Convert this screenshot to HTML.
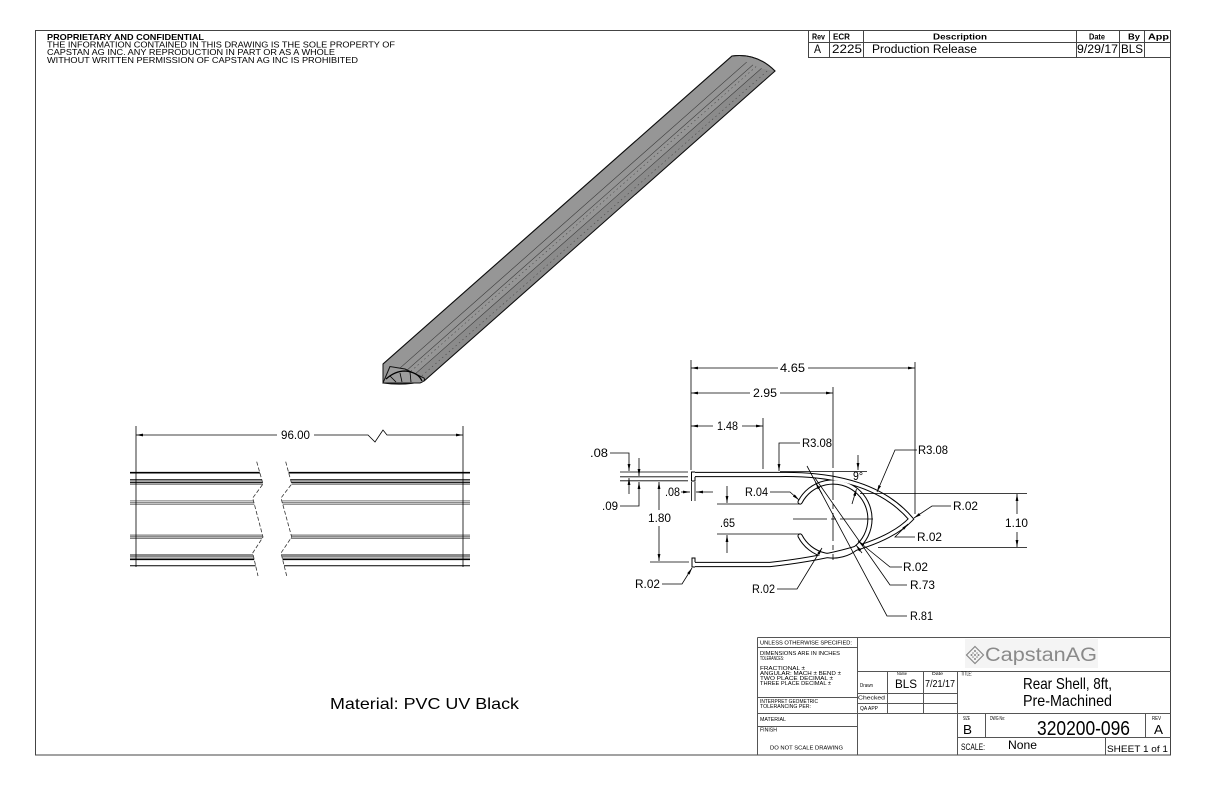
<!DOCTYPE html>
<html><head><meta charset="utf-8"><style>
html,body{margin:0;padding:0;background:#fff;}
svg{display:block;}
text{font-family:"Liberation Sans",Arial,sans-serif;fill:#000;}
</style></head><body>
<svg width="1224" height="792" viewBox="0 0 1224 792" xmlns="http://www.w3.org/2000/svg">
<defs>
<marker id="ar" viewBox="0 0 10 4" refX="10" refY="2" markerWidth="7" markerHeight="2.8" markerUnits="userSpaceOnUse" orient="auto-start-reverse"><path d="M0,0L10,2L0,4z" fill="#000"/></marker>
<clipPath id="cl"><polygon points="130,455 256.7,461.7 263,484 252.7,498 263,537 252.7,553 258,576 130,576"/></clipPath>
<clipPath id="cr"><polygon points="285.7,461.7 291.7,484 281,498 291.7,537 281,553 286.7,576 470,576 470,455"/></clipPath>
<g id="bars">
<line x1="130" y1="472.7" x2="470" y2="472.7" stroke="#000" stroke-width="1.6"/>
<line x1="130" y1="479.7" x2="470" y2="479.7" stroke="#000" stroke-width="1"/>
<line x1="130" y1="481.2" x2="470" y2="481.2" stroke="#888" stroke-width="1.2"/>
<line x1="130" y1="482.6" x2="470" y2="482.6" stroke="#000" stroke-width="1"/>
<line x1="130" y1="484.1" x2="470" y2="484.1" stroke="#222" stroke-width="0.8"/>
<line x1="130" y1="500.8" x2="470" y2="500.8" stroke="#555" stroke-width="0.7"/>
<line x1="130" y1="502.6" x2="470" y2="502.6" stroke="#8a8a8a" stroke-width="1.8"/>
<line x1="130" y1="504.3" x2="470" y2="504.3" stroke="#555" stroke-width="0.7"/>
<line x1="130" y1="535" x2="470" y2="535" stroke="#555" stroke-width="0.7"/>
<line x1="130" y1="536.7" x2="470" y2="536.7" stroke="#8a8a8a" stroke-width="1.8"/>
<line x1="130" y1="538.4" x2="470" y2="538.4" stroke="#555" stroke-width="0.7"/>
<rect x="130" y="554" width="340" height="3.6" fill="#8a8a8a"/>
<line x1="130" y1="559.3" x2="470" y2="559.3" stroke="#000" stroke-width="1.6"/>
<line x1="130" y1="565.8" x2="470" y2="565.8" stroke="#000" stroke-width="1"/>
</g>
</defs>

<!-- frame -->
<rect x="35.5" y="30.5" width="1135" height="724.5" fill="none" stroke="#444" stroke-width="1"/>

<!-- header -->
<text x="47" y="40" font-size="8.5" font-weight="bold" textLength="157" lengthAdjust="spacingAndGlyphs">PROPRIETARY AND CONFIDENTIAL</text>
<text x="47" y="47.6" font-size="8.5" textLength="348" lengthAdjust="spacingAndGlyphs">THE INFORMATION CONTAINED IN THIS DRAWING IS THE SOLE PROPERTY OF</text>
<text x="47" y="55.2" font-size="8.5" textLength="288" lengthAdjust="spacingAndGlyphs">CAPSTAN AG INC. ANY REPRODUCTION IN PART OR AS A WHOLE</text>
<text x="47" y="62.8" font-size="8.5" textLength="311" lengthAdjust="spacingAndGlyphs">WITHOUT WRITTEN PERMISSION OF CAPSTAN AG INC IS PROHIBITED</text>

<!-- rev table -->
<g stroke="#444" stroke-width="1" fill="none">
<rect x="808.5" y="30.5" width="362" height="27"/>
<path d="M808.5,42.5H1170.5M829.5,30.5V57.5M863.5,30.5V57.5M1076.5,30.5V57.5M1119.5,30.5V57.5M1144.5,30.5V57.5"/>
</g>
<g font-size="8.5" font-weight="bold">
<text x="812" y="39.5" textLength="13" lengthAdjust="spacingAndGlyphs">Rev</text>
<text x="833" y="39.5" textLength="17" lengthAdjust="spacingAndGlyphs">ECR</text>
<text x="933" y="39.5" textLength="54" lengthAdjust="spacingAndGlyphs">Description</text>
<text x="1089" y="39.5" textLength="16" lengthAdjust="spacingAndGlyphs">Date</text>
<text x="1128" y="39.5" textLength="12" lengthAdjust="spacingAndGlyphs">By</text>
<text x="1148" y="39.5" textLength="21" lengthAdjust="spacingAndGlyphs">App</text>
</g>
<g font-size="11.5">
<text x="814" y="53" textLength="7" lengthAdjust="spacingAndGlyphs">A</text>
<text x="832" y="53" textLength="30" lengthAdjust="spacingAndGlyphs">2225</text>
<text x="872" y="53" textLength="105" lengthAdjust="spacingAndGlyphs">Production Release</text>
<text x="1077" y="53" textLength="41" lengthAdjust="spacingAndGlyphs">9/29/17</text>
<text x="1121" y="53" textLength="22" lengthAdjust="spacingAndGlyphs">BLS</text>
</g>

<!-- isometric bar -->
<path d="M383,364 L732,56 Q756.6,52.5 775,71 L424,381 Q405,386 383,383 Z" fill="#969696" stroke="#111" stroke-width="1"/>
<polygon points="413,376.5 761,68.5 775,71 424,381" fill="#8b8b8b"/>
<g stroke="#333" stroke-width="0.55" fill="none">
<line x1="397.7" y1="370.1" x2="746.7" y2="62.1"/>
<line x1="404" y1="372.8" x2="753" y2="64.8"/>
<line x1="407.5" y1="374.2" x2="756.5" y2="66.2" stroke-dasharray="1.5 3" stroke="#444"/>
<line x1="412.5" y1="376.3" x2="761.5" y2="68.3"/>
<line x1="418.5" y1="378.8" x2="767.5" y2="70.8" stroke-dasharray="1.5 3" stroke="#444"/>
</g>
<path d="M383,364 L732,56 Q756.6,52.5 775,71 L424,381" fill="none" stroke="#111" stroke-width="1"/>
<path d="M390,366.5 L383,383 L420,383 Q426,381 424,378 L405,369 Z" fill="#9c9c9c" stroke="#111" stroke-width="1"/>
<path d="M386,379 Q395,371 405,371 Q418,372 422,381" fill="none" stroke="#000" stroke-width="1.3"/>
<path d="M400,373 L402,382 M410,372 L411,382 M390,376 L396,382" fill="none" stroke="#000" stroke-width="0.8"/>

<!-- front view -->
<g clip-path="url(#cl)"><use href="#bars"/></g>
<g clip-path="url(#cr)"><use href="#bars"/></g>
<g stroke="#333" stroke-width="0.8" fill="none" stroke-dasharray="4 2">
<polyline points="256.7,461.7 263,484 252.7,498 263,537 252.7,553 258,576"/>
<polyline points="285.7,461.7 291.7,484 281,498 291.7,537 281,553 286.7,576"/>
</g>
<g stroke="#000" stroke-width="0.8" fill="none">
<path d="M136,426V567M463,426V567"/>
<path d="M277,435H136" marker-end="url(#ar)"/>
<path d="M314,435H368L375,442L383,430L387,435H463" marker-end="url(#ar)"/>
</g>
<text x="281" y="439" font-size="11.5" textLength="29" lengthAdjust="spacingAndGlyphs">96.00</text>

<!-- profile shapes -->
<g fill="none" stroke-linejoin="miter" stroke-miterlimit="10">
<path d="M695,474.5 L780,474.5 Q872,473 911,519 Q880,552 770,564.5 L695,564.5" stroke="#000" stroke-width="5.2"/>
<path d="M800.1,502 A37,37 0 1 1 800.1,536" stroke="#000" stroke-width="5.2" stroke-linecap="round"/>
<path d="M695,474.5 L780,474.5 Q872,473 911,519 Q880,552 770,564.5 L695,564.5" stroke="#fff" stroke-width="3.2"/>
<path d="M800.1,502 A37,37 0 1 1 800.1,536" stroke="#fff" stroke-width="3.2" stroke-linecap="round"/>
</g>
<path d="M695,472 H691.5 V481 H695 V476.9" fill="#fff" stroke="#000" stroke-width="1"/>
<path d="M695,567 H692 V558 H695 V562.1" fill="#fff" stroke="#000" stroke-width="1"/>

<!-- profile dimensions -->
<g stroke="#000" stroke-width="0.8" fill="none">
<path d="M691,360V470M915,362V514M763,418V469M833,387V468"/>
<path d="M833,472V560" stroke-dasharray="28 4 5 4"/>
<path d="M793,519H873" stroke-dasharray="34 4 5 4"/>
<path d="M778,368H691" marker-end="url(#ar)"/>
<path d="M808,368H915" marker-end="url(#ar)"/>
<path d="M750,393H691" marker-end="url(#ar)"/>
<path d="M780,393H833" marker-end="url(#ar)"/>
<path d="M713,426H691" marker-end="url(#ar)"/>
<path d="M742,426H763" marker-end="url(#ar)"/>
<path d="M800,443H779V471" marker-end="url(#ar)"/>
<path d="M917,450H895L877,492" marker-end="url(#ar)"/>
<path d="M780,471.5H867"/>
<path d="M858,455V470" marker-end="url(#ar)"/>
<path d="M852,504L856.5,489" marker-end="url(#ar)"/>
<path d="M860,493.5H1027M878,547.5H1027"/>
<path d="M1017,514V494" marker-end="url(#ar)"/>
<path d="M1017,532V547" marker-end="url(#ar)"/>
<path d="M951,506H932L914,518" marker-end="url(#ar)"/>
<path d="M915,537H895L908,524" marker-end="url(#ar)"/>
<path d="M902,567H890L858,541" marker-end="url(#ar)"/>
<path d="M907,585H890L815,478"/>
<path d="M862,553L856,545" marker-end="url(#ar)"/>
<path d="M907,616H887L807,466"/>
<path d="M822,494L815.5,482.5" marker-end="url(#ar)"/>
<path d="M777,589H797L822,548" marker-end="url(#ar)"/>
<path d="M662,584H682L692,568" marker-end="url(#ar)"/>
<path d="M770,492H790L799,500" marker-end="url(#ar)"/>
<path d="M727,486V503" marker-end="url(#ar)"/>
<path d="M727,553V535" marker-end="url(#ar)"/>
<path d="M717,504H800M717,534H800"/>
<path d="M681,492H690" marker-end="url(#ar)"/>
<path d="M713,492H696" marker-end="url(#ar)"/>
<path d="M691.5,482V501M695,482V501"/>
<path d="M620,472H688M620,476.8H688M620,480.8H688"/>
<path d="M610,453H629V471" marker-end="url(#ar)"/>
<path d="M629,494V478" marker-end="url(#ar)"/>
<path d="M639,458V476" marker-end="url(#ar)"/>
<path d="M620,506H639V482" marker-end="url(#ar)"/>
<path d="M659,510V482" marker-end="url(#ar)"/>
<path d="M659,526V561" marker-end="url(#ar)"/>
<path d="M650,562H689"/>
</g>
<g font-size="11.5">
<text x="780" y="372" textLength="25" lengthAdjust="spacingAndGlyphs">4.65</text>
<text x="753" y="397" textLength="24" lengthAdjust="spacingAndGlyphs">2.95</text>
<text x="717" y="430" textLength="21" lengthAdjust="spacingAndGlyphs">1.48</text>
<text x="802" y="447" textLength="30" lengthAdjust="spacingAndGlyphs">R3.08</text>
<text x="918" y="454" textLength="30" lengthAdjust="spacingAndGlyphs">R3.08</text>
<text x="853" y="480" textLength="10" lengthAdjust="spacingAndGlyphs">9°</text>
<text x="590" y="457" textLength="18" lengthAdjust="spacingAndGlyphs">.08</text>
<text x="602" y="510" textLength="16" lengthAdjust="spacingAndGlyphs">.09</text>
<text x="665" y="496" textLength="15" lengthAdjust="spacingAndGlyphs">.08</text>
<text x="745" y="496" textLength="23" lengthAdjust="spacingAndGlyphs">R.04</text>
<text x="648" y="522" textLength="23" lengthAdjust="spacingAndGlyphs">1.80</text>
<text x="720" y="527" textLength="15" lengthAdjust="spacingAndGlyphs">.65</text>
<text x="953" y="510" textLength="25" lengthAdjust="spacingAndGlyphs">R.02</text>
<text x="1005" y="527" textLength="23" lengthAdjust="spacingAndGlyphs">1.10</text>
<text x="917" y="541" textLength="25" lengthAdjust="spacingAndGlyphs">R.02</text>
<text x="903" y="571" textLength="25" lengthAdjust="spacingAndGlyphs">R.02</text>
<text x="910" y="589" textLength="25" lengthAdjust="spacingAndGlyphs">R.73</text>
<text x="910" y="620" textLength="23" lengthAdjust="spacingAndGlyphs">R.81</text>
<text x="752" y="593" textLength="23" lengthAdjust="spacingAndGlyphs">R.02</text>
<text x="635" y="588" textLength="25" lengthAdjust="spacingAndGlyphs">R.02</text>
</g>

<!-- material -->
<text x="330" y="709" font-size="16" textLength="189" lengthAdjust="spacingAndGlyphs">Material: PVC UV Black</text>

<!-- title block -->
<rect x="965" y="639" width="133" height="29" fill="#f4f4f4"/>
<g stroke="#555" stroke-width="1" fill="none">
<path d="M757.5,637.5H1170.5M757.5,637.5V755M857.5,637.5V755M757.5,647.5H857.5M757.5,697.5H857.5M757.5,713.5H857.5M757.5,726.5H857.5M857.5,671.5H1170.5M857.5,713.5H1170.5M887.5,671.5V713.5M923.5,671.5V713.5M957.5,671.5V755M857.5,693.5H957.5M857.5,703.5H957.5M985.5,713.5V737.5M1145.5,713.5V737.5M957.5,737.5H1170.5M1105.5,737.5V755"/>
</g>
<g font-size="5.5">
<text x="760" y="644.5" textLength="92" lengthAdjust="spacingAndGlyphs">UNLESS OTHERWISE SPECIFIED:</text>
<text x="760" y="655" textLength="80" lengthAdjust="spacingAndGlyphs">DIMENSIONS ARE IN INCHES</text>
<text x="760" y="660" textLength="24" lengthAdjust="spacingAndGlyphs">TOLERANCES:</text>
<text x="760" y="670" textLength="45" lengthAdjust="spacingAndGlyphs">FRACTIONAL ±</text>
<text x="760" y="675" textLength="81" lengthAdjust="spacingAndGlyphs">ANGULAR: MACH ±     BEND ±</text>
<text x="760" y="680" textLength="73" lengthAdjust="spacingAndGlyphs">TWO PLACE DECIMAL    ±</text>
<text x="760" y="685" textLength="71" lengthAdjust="spacingAndGlyphs">THREE PLACE DECIMAL  ±</text>
<text x="760" y="703" textLength="58" lengthAdjust="spacingAndGlyphs">INTERPRET GEOMETRIC</text>
<text x="760" y="708" textLength="51" lengthAdjust="spacingAndGlyphs">TOLERANCING PER:</text>
<text x="760" y="721" textLength="26" lengthAdjust="spacingAndGlyphs">MATERIAL</text>
<text x="760" y="731.5" textLength="17" lengthAdjust="spacingAndGlyphs">FINISH</text>
<text x="770" y="749.5" textLength="73" lengthAdjust="spacingAndGlyphs">DO NOT SCALE DRAWING</text>
<text x="860" y="687" textLength="13" lengthAdjust="spacingAndGlyphs">Drawn</text>
<text x="858" y="699.5" textLength="27" lengthAdjust="spacingAndGlyphs">Checked</text>
<text x="860" y="710" textLength="18" lengthAdjust="spacingAndGlyphs">QA APP</text>
<text x="961" y="675.5" textLength="11" lengthAdjust="spacingAndGlyphs">TITLE:</text>
<text x="963" y="720" textLength="7" lengthAdjust="spacingAndGlyphs">SIZE</text>
<text x="990" y="720" textLength="15" lengthAdjust="spacingAndGlyphs">DWG No:</text>
<text x="1152" y="720" textLength="9" lengthAdjust="spacingAndGlyphs">REV</text>
</g>
<g font-size="4.5">
<text x="897" y="675" textLength="10" lengthAdjust="spacingAndGlyphs">Name</text>
<text x="932" y="675" textLength="11" lengthAdjust="spacingAndGlyphs">Date</text>
</g>
<text x="895" y="688" font-size="12" textLength="22" lengthAdjust="spacingAndGlyphs">BLS</text>
<text x="925" y="687" font-size="10" textLength="30" lengthAdjust="spacingAndGlyphs">7/21/17</text>
<text x="1023" y="689" font-size="16" textLength="89" lengthAdjust="spacingAndGlyphs">Rear Shell, 8ft,</text>
<text x="1023" y="706" font-size="16" textLength="89" lengthAdjust="spacingAndGlyphs">Pre-Machined</text>
<text x="963" y="734" font-size="13" textLength="9" lengthAdjust="spacingAndGlyphs">B</text>
<text x="1037" y="735" font-size="20" textLength="93" lengthAdjust="spacingAndGlyphs">320200-096</text>
<text x="1154" y="734" font-size="13" textLength="9" lengthAdjust="spacingAndGlyphs">A</text>
<text x="961" y="750" font-size="9" textLength="24" lengthAdjust="spacingAndGlyphs">SCALE:</text>
<text x="1008" y="749" font-size="12" textLength="29" lengthAdjust="spacingAndGlyphs">None</text>
<text x="1107" y="752" font-size="9" textLength="61" lengthAdjust="spacingAndGlyphs">SHEET 1 of 1</text>

<!-- logo -->
<g fill="none" stroke="#888" stroke-width="1.2">
<polygon points="975,646.5 983.5,655 975,663.5 966.5,655"/>
</g>
<g fill="#888">
<circle cx="975" cy="651" r="1"/><circle cx="971.5" cy="655" r="1"/><circle cx="978.5" cy="655" r="1"/><circle cx="975" cy="659" r="1"/><circle cx="975" cy="655" r="1"/><circle cx="973" cy="653" r="0.8"/><circle cx="977" cy="653" r="0.8"/><circle cx="973" cy="657" r="0.8"/><circle cx="977" cy="657" r="0.8"/>
</g>
<text x="985" y="661" font-size="19" style="fill:#8a8a8a" textLength="112" lengthAdjust="spacingAndGlyphs">CapstanAG</text>
</svg>
</body></html>
